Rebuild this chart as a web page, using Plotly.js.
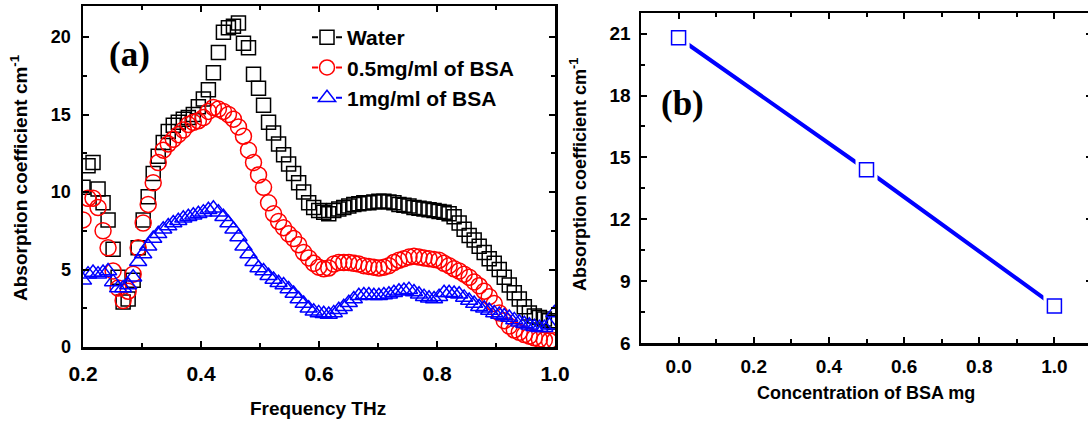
<!DOCTYPE html>
<html>
<head>
<meta charset="utf-8">
<script src="https://cdn.plot.ly/plotly-3.0.1.min.js"></script>
<style>
html,body{margin:0;padding:0;overflow:hidden;background:#fff;}
#chart{width:1100px;height:423px;}
</style>
</head>
<body>
<div id="chart"></div>
<script>
// ---------- Panel (a) data ----------
const frequencyTHz = [
0.2000,0.2085,0.2170,0.2255,0.2340,0.2425,0.2510,0.2595,0.2680,0.2765,
0.2850,0.2935,0.3020,0.3105,0.3190,0.3275,0.3360,0.3445,0.3530,0.3615,
0.3700,0.3785,0.3870,0.3955,0.4040,0.4125,0.4210,0.4295,0.4380,0.4465,
0.4550,0.4635,0.4720,0.4805,0.4890,0.4975,0.5060,0.5145,0.5230,0.5315,
0.5400,0.5485,0.5570,0.5655,0.5740,0.5825,0.5910,0.5995,0.6080,0.6165,
0.6250,0.6335,0.6420,0.6505,0.6590,0.6675,0.6760,0.6845,0.6930,0.7015,
0.7100,0.7185,0.7270,0.7355,0.7440,0.7525,0.7610,0.7695,0.7780,0.7865,
0.7950,0.8035,0.8120,0.8205,0.8290,0.8375,0.8460,0.8545,0.8630,0.8715,
0.8800,0.8885,0.8970,0.9055,0.9140,0.9225,0.9310,0.9395,0.9480,0.9565,
0.9650,0.9735,0.9820,0.9905,0.9990];

const water = [
10.3,11.7,11.9,10.2,9.3,8.2,6.3,4.5,2.9,3.1,
4.3,6.4,8.2,9.7,11.2,12.3,13.2,13.9,14.3,14.5,
14.7,14.8,15.0,15.5,16.0,16.6,17.7,19.0,20.3,20.6,
20.7,20.9,19.6,19.3,17.6,16.7,15.6,14.5,13.8,13.1,
12.4,11.8,11.2,10.6,10.0,9.3,9.0,8.8,8.7,8.6,
8.8,8.9,9.0,9.1,9.2,9.25,9.3,9.3,9.35,9.4,
9.4,9.35,9.3,9.2,9.15,9.1,9.0,8.95,8.9,8.85,
8.8,8.75,8.7,8.6,8.4,8.0,7.6,7.2,6.9,6.5,
6.1,5.7,5.4,5.0,4.5,4.0,3.5,3.1,2.6,2.2,
2.0,1.9,1.8,1.7,1.6];

const bsa05 = [
8.2,9.6,9.6,9.0,7.5,6.4,4.9,3.8,3.0,3.6,
4.7,6.4,8.0,9.2,10.6,11.9,12.7,13.1,13.4,13.7,
14.0,14.35,14.5,14.6,14.8,15.2,15.45,15.35,15.2,15.0,
14.7,14.2,13.6,12.7,11.9,11.1,10.3,9.3,8.6,8.1,
7.7,7.3,7.0,6.6,6.1,5.75,5.4,5.15,5.05,5.1,
5.35,5.45,5.45,5.45,5.4,5.35,5.25,5.2,5.15,5.1,
5.15,5.25,5.45,5.6,5.7,5.8,5.85,5.8,5.75,5.7,
5.65,5.6,5.4,5.25,5.05,4.9,4.7,4.5,4.2,3.95,
3.6,3.25,2.8,2.2,1.7,1.35,1.1,0.95,0.8,0.7,
0.6,0.5,0.45,0.4,0.4];

const bsa1 = [
4.3,4.7,4.8,4.7,4.8,4.9,4.2,3.8,3.8,4.0,
4.5,5.5,6.0,6.5,7.0,7.3,7.6,7.8,8.0,8.15,
8.3,8.4,8.5,8.6,8.7,8.85,8.95,8.7,8.4,8.0,
7.6,7.1,6.5,6.0,5.5,5.1,4.9,4.6,4.35,4.15,
4.0,3.75,3.45,3.1,2.8,2.5,2.3,2.2,2.15,2.1,
2.2,2.4,2.6,2.85,3.1,3.3,3.35,3.35,3.3,3.3,
3.35,3.4,3.5,3.6,3.65,3.7,3.55,3.4,3.25,3.15,
3.1,3.25,3.5,3.5,3.45,3.4,3.2,3.0,2.8,2.6,
2.5,2.35,2.2,2.1,2.0,1.9,1.75,1.6,1.5,1.4,
1.3,1.25,1.25,1.4,2.2];

const seriesNames = ['Water', '0.5mg/ml of BSA', '1mg/ml of BSA'];

// ---------- Panel (b) data ----------
const concentrationMg = [0.0, 0.5, 1.0];
const peakAbsorption = [20.8, 14.4, 7.8];

const xTicksA = [0.2, 0.4, 0.6, 0.8, 1.0];
const yTicksA = [0, 5, 10, 15, 20];
const xTicksB = [0.0, 0.2, 0.4, 0.6, 0.8, 1.0];
const yTicksB = [6, 9, 12, 15, 18, 21];

// ---------- layout helpers ----------
const W = 1100, H = 423;
const px = v => v / W;
const py = v => 1 - v / H;
const FONT = 'Liberation Sans, Arial, sans-serif';

const traces = [
  {x: frequencyTHz, y: water, xaxis: 'x', yaxis: 'y', mode: 'markers', showlegend: false,
   marker: {symbol: 'square-open', size: 14, color: '#000', line: {width: 1.5, color: '#000'}}},
  {x: frequencyTHz, y: bsa05, xaxis: 'x', yaxis: 'y', mode: 'markers', showlegend: false,
   marker: {symbol: 'circle-open', size: 16, color: '#ff0000', line: {width: 1.5, color: '#ff0000'}}},
  {x: frequencyTHz, y: bsa1, xaxis: 'x', yaxis: 'y', mode: 'markers', showlegend: false,
   marker: {symbol: 'triangle-up-open', size: 15, color: '#0000ff', line: {width: 1.5, color: '#0000ff'}}},
  // legend entries in the Origin "-□-" style
  {x: [null], y: [null], xaxis: 'x', yaxis: 'y', mode: 'lines+markers', name: seriesNames[0],
   line: {color: '#000', width: 2, dash: '6px,18px,6px'},
   marker: {symbol: 'square-open', size: 14, color: '#000', line: {width: 1.5}}},
  {x: [null], y: [null], xaxis: 'x', yaxis: 'y', mode: 'lines+markers', name: seriesNames[1],
   line: {color: '#ff0000', width: 2, dash: '6px,18px,6px'},
   marker: {symbol: 'circle-open', size: 15, color: '#ff0000', line: {width: 1.5}}},
  {x: [null], y: [null], xaxis: 'x', yaxis: 'y', mode: 'lines+markers', name: seriesNames[2],
   line: {color: '#0000ff', width: 2, dash: '6px,18px,6px'},
   marker: {symbol: 'triangle-up-open', size: 15, color: '#0000ff', line: {width: 1.5}}},
  // panel (b)
  {x: concentrationMg, y: peakAbsorption, xaxis: 'x2', yaxis: 'y2', mode: 'lines', showlegend: false,
   line: {color: '#0000ff', width: 4}},
  {x: concentrationMg, y: peakAbsorption, xaxis: 'x2', yaxis: 'y2', mode: 'markers', showlegend: false,
   marker: {symbol: 'square', size: 22, color: '#fff', line: {width: 0}}},
  {x: concentrationMg, y: peakAbsorption, xaxis: 'x2', yaxis: 'y2', mode: 'markers', showlegend: false,
   marker: {symbol: 'square-open', size: 14, color: '#0000ff', line: {width: 1.5, color: '#0000ff'}}}
];

function axis(opts) {
  return Object.assign({
    showline: true, linecolor: '#000', linewidth: 2.5, mirror: 'ticks',
    ticks: 'inside', ticklen: 6, tickwidth: 2, tickcolor: '#000',
    showgrid: false, zeroline: false, fixedrange: true,
    tickfont: {family: FONT, size: 18, color: '#000', weight: 700}
  }, opts);
}
const minorTick = {ticks: 'inside', ticklen: 4, tickwidth: 2, tickcolor: '#000'};

const layout = {
  width: W, height: H,
  margin: {l: 0, r: 0, t: 0, b: 0},
  paper_bgcolor: '#fff', plot_bgcolor: '#fff',
  showlegend: true,
  legend: {x: px(307), y: py(17), xanchor: 'left', yanchor: 'top',
           bgcolor: 'rgba(0,0,0,0)', borderwidth: 0,
           font: {family: FONT, size: 21, color: '#000', weight: 700}},
  xaxis: axis({domain: [px(83), px(555)], range: [0.2, 1.0], anchor: 'y',
    tickvals: xTicksA, tickformat: '.1f', ticklabelstandoff: 6,
    tickfont: {family: FONT, size: 21, color: '#000', weight: 700},
    minor: Object.assign({dtick: 0.1, tick0: 0.1}, minorTick)}),
  yaxis: axis({domain: [py(347), py(6)], range: [0, 22], anchor: 'x',
    tickvals: yTicksA, ticklabelstandoff: 6,
    minor: Object.assign({dtick: 2.5, tick0: 0}, minorTick)}),
  xaxis2: axis({domain: [px(641), px(1092)], range: [-0.1, 1.1], anchor: 'y2',
    tickvals: xTicksB, tickformat: '.1f', ticklabelstandoff: 5,
    tickfont: {family: FONT, size: 19, color: '#000', weight: 700},
    minor: Object.assign({dtick: 0.1, tick0: 0}, minorTick)}),
  yaxis2: axis({domain: [py(343), py(13)], range: [6, 22], anchor: 'x2',
    tickvals: yTicksB, ticklabelstandoff: 4,
    tickfont: {family: FONT, size: 19, color: '#000', weight: 700},
    minor: Object.assign({dtick: 1.5, tick0: 6}, minorTick)}),
  annotations: [
    {text: '(a)', xref: 'paper', yref: 'paper', x: px(129), y: py(55), xanchor: 'center', yanchor: 'middle',
     showarrow: false, font: {family: 'Liberation Serif, Times New Roman, serif', size: 35, color: '#000', weight: 700}},
    {text: '(b)', xref: 'paper', yref: 'paper', x: px(683), y: py(103), xanchor: 'center', yanchor: 'middle',
     showarrow: false, font: {family: 'Liberation Serif, Times New Roman, serif', size: 35, color: '#000', weight: 700}},
    {text: 'Frequency THz', xref: 'paper', yref: 'paper', x: px(318), y: py(408), xanchor: 'center', yanchor: 'middle',
     showarrow: false, font: {family: FONT, size: 19, color: '#000', weight: 700}},
    {text: 'Absorption coefficient cm<sup>-1</sup>', xref: 'paper', yref: 'paper', x: px(19), y: py(178),
     xanchor: 'center', yanchor: 'middle', textangle: -90,
     showarrow: false, font: {family: FONT, size: 19, color: '#000', weight: 700}},
    {text: 'Concentration of BSA mg', xref: 'paper', yref: 'paper', x: px(866), y: py(393), xanchor: 'center', yanchor: 'middle',
     showarrow: false, font: {family: FONT, size: 18, color: '#000', weight: 700}},
    {text: 'Absorption coefficient cm<sup>-1</sup>', xref: 'paper', yref: 'paper', x: px(578), y: py(175),
     xanchor: 'center', yanchor: 'middle', textangle: -90,
     showarrow: false, font: {family: FONT, size: 18, color: '#000', weight: 700}}
  ]
};

Plotly.newPlot('chart', traces, layout, {staticPlot: true, displayModeBar: false});
</script>
</body>
</html>
